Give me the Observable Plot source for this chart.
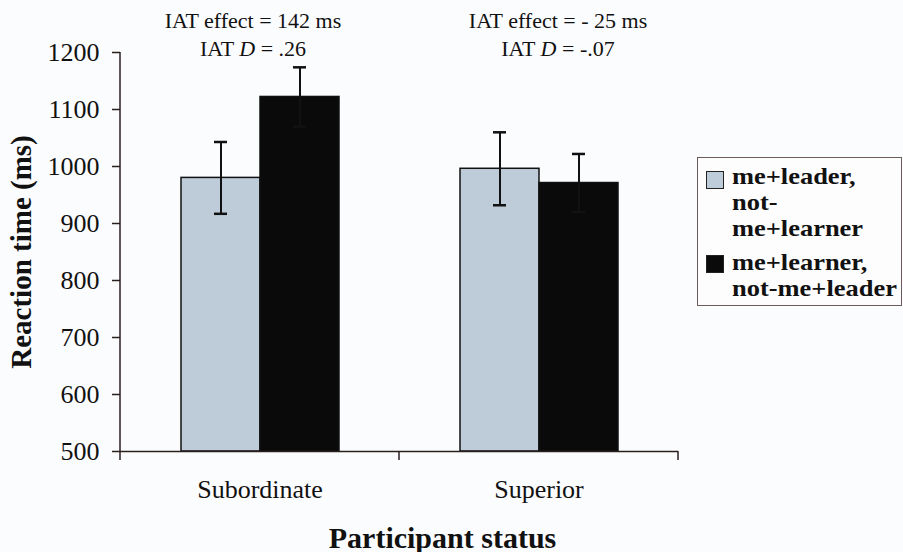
<!DOCTYPE html>
<html><head><meta charset="utf-8">
<script src="https://cdn.jsdelivr.net/npm/d3@7"></script>
<script src="https://cdn.jsdelivr.net/npm/@observablehq/plot@0.6"></script>
<style>
body{margin:0;background:#fbfcfe;}
#wrap, #wrap svg, #wrap svg text{font-family:"Liberation Serif","Tinos","Times New Roman","Times","DejaVu Serif",serif !important;}
#wrap{position:relative;width:903px;height:552px;}
#wrap svg{position:absolute;left:0;top:0;}
g[aria-label="y-axis label"] text{font-weight:bold;font-size:29px;}
g[aria-label="fx-axis label"] text{font-weight:bold;font-size:30px;}
.legend{position:absolute;left:697px;top:157px;width:205px;height:149px;border:1px solid #6b5b5b;box-sizing:border-box;background:#fdfdfd;font-weight:bold;font-size:23px;line-height:26px;color:#111;white-space:nowrap;}
.item{position:absolute;left:34px;transform:scaleX(1.15);transform-origin:0 0;}
.sw{position:absolute;width:16px;height:16px;border:1.5px solid #222;left:8px;}
</style></head>
<body><div id="wrap"></div>
<script>
const statuses = ["Subordinate", "Superior"];
const conditions = ["me+leader, not-me+learner", "me+learner, not-me+leader"];
const meanLeader = [980, 996];
const meanLearner = [1122, 971];
const seLeader = [63, 64];
const seLearner = [52, 51];
const iatEffect = ["142 ms", "- 25 ms"];
const iatD = [".26", "-.07"];
const yTicks = [500, 600, 700, 800, 900, 1000, 1100, 1200];
const colors = ["#bdccd8", "#0a0a0a"];

const rows = [];
statuses.forEach((s, i) => {
  rows.push({status: s, condition: conditions[0], mean: meanLeader[i], se: seLeader[i]});
  rows.push({status: s, condition: conditions[1], mean: meanLearner[i], se: seLearner[i]});
});
const annot = statuses.map((s, i) => ({status: s, effect: iatEffect[i], d: iatD[i]}));
const yBase = yTicks[0];
const dxs = [-7, 19];

const textMarks = [];
annot.forEach((a, i) => {
  textMarks.push(Plot.text([a], {fx: "status", text: d => `IAT effect = ${d.effect}`, frameAnchor: "top", dy: -40, dx: dxs[i], fontSize: 22, fill: "#111"}));
  textMarks.push(Plot.text([a], {fx: "status", text: d => `IAT D = ${d.d}`, frameAnchor: "top", dy: -12, dx: dxs[i], fontSize: 22, fill: "#111", className: "dline"}));
});

const plot = Plot.plot({
  width: 903, height: 552,
  marginLeft: 120, marginRight: 225, marginTop: 52, marginBottom: 101,
  style: {background: "transparent", color: "#111", overflow: "visible"},
  fx: {domain: statuses, padding: 0},
  x: {domain: conditions, paddingInner: 0, paddingOuter: 0.744, axis: null},
  y: {domain: [yBase, yTicks[yTicks.length - 1]]},
  color: {domain: conditions, range: colors},
  marks: [
    Plot.axisY({ticks: yTicks, tickFormat: d => String(d), tickSize: 8, tickPadding: 13, fontSize: 26, stroke: "#2a1f1f", strokeWidth: 1.5,
      label: "Reaction time (ms)", labelAnchor: "center", labelOffset: 110}),
    Plot.axisFx({anchor: "bottom", tickSize: 0, tickPadding: 28, fontSize: 26, label: "Participant status", labelAnchor: "center", labelOffset: 96}),
    Plot.barY(rows, {fx: "status", x: "condition", y1: yBase, y2: "mean", fill: "condition", stroke: "#111", strokeWidth: 1.5}),
    Plot.ruleX(rows, {fx: "status", x: "condition", y1: d => d.mean - d.se, y2: d => d.mean + d.se, stroke: "#111", strokeWidth: 2}),
    Plot.tickY(rows, {fx: "status", x: "condition", y: d => d.mean + d.se, insetLeft: 33, insetRight: 33, stroke: "#111", strokeWidth: 2.5}),
    Plot.tickY(rows, {fx: "status", x: "condition", y: d => d.mean - d.se, insetLeft: 33, insetRight: 33, stroke: "#111", strokeWidth: 2.5}),
    Plot.ruleY([yBase], {stroke: "#2a1f1f", strokeWidth: 1.5}),
    ...textMarks
  ]
});

// italic D in second annotation line
d3.select(plot).selectAll(".dline text").each(function () {
  const t = this.textContent;
  const idx = t.indexOf("D");
  this.textContent = "";
  const ns = "http://www.w3.org/2000/svg";
  const a = document.createElementNS(ns, "tspan"); a.textContent = t.slice(0, idx);
  const b = document.createElementNS(ns, "tspan"); b.textContent = "D"; b.setAttribute("font-style", "italic");
  const c = document.createElementNS(ns, "tspan"); c.textContent = t.slice(idx + 1);
  this.append(a, b, c);
});
// strip the arrow Plot adds to axis labels
d3.select(plot).selectAll('g[aria-label$="axis label"] text').each(function () {
  this.textContent = this.textContent.replace(/\s*[↑→←↓]\s*/g, "");
});
// the reference's x-axis title sits right of the frame centre
d3.select(plot).selectAll('g[aria-label="fx-axis label"]').each(function () {
  const tr = this.getAttribute("transform") || "";
  this.setAttribute("transform", "translate(43,0) " + tr);
});

// axis lines and x ticks from the library's scales
const fx = plot.scale("fx"), y = plot.scale("y");
const g = d3.select(plot).append("g").attr("stroke", "#2a1f1f").attr("stroke-width", 1.5);
const x0 = fx.apply(statuses[0]);
g.append("line").attr("x1", x0).attr("x2", x0).attr("y1", y.apply(yTicks[yTicks.length - 1])).attr("y2", y.apply(yBase));
const bounds = statuses.map(s => fx.apply(s)).concat([fx.apply(statuses[statuses.length - 1]) + fx.bandwidth]);
bounds.forEach(b => g.append("line").attr("x1", b).attr("x2", b).attr("y1", y.apply(yBase)).attr("y2", y.apply(yBase) + 9));

const wrap = document.getElementById("wrap");
wrap.append(plot);

// legend
const legend = document.createElement("div");
legend.className = "legend";
const lines = [["me+leader,", "not-", "me+learner"], ["me+learner,", "not-me+leader"]];
const tops = [6, 92];
const swOff = [7, 5];
conditions.forEach((c, i) => {
  const sw = document.createElement("div");
  sw.className = "sw"; sw.style.background = colors[i]; sw.style.top = (tops[i] + swOff[i]) + "px";
  const it = document.createElement("div");
  it.className = "item"; it.style.top = tops[i] + "px";
  it.innerHTML = lines[i].join("<br>");
  legend.append(sw, it);
});
wrap.append(legend);
</script></body></html>
